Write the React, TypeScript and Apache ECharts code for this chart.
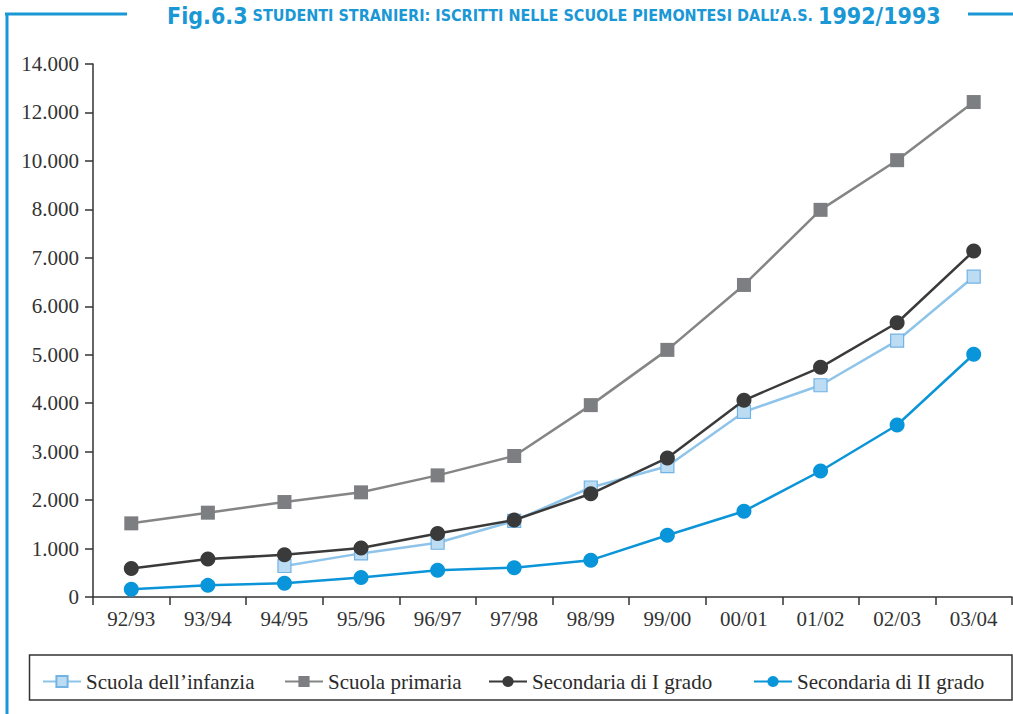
import React, { useEffect, useRef } from "react";
import * as echarts from "echarts";

const categories = ["92/93", "93/94", "94/95", "95/96", "96/97", "97/98", "98/99", "99/00", "00/01", "01/02", "02/03", "03/04"];
const infanzia = [null, null, 640, 900, 1120, 1570, 2260, 2700, 3820, 4370, 5290, 6610];
const primaria = [1520, 1740, 1960, 2160, 2510, 2910, 3960, 5100, 6440, 7990, 10030, 12430];
const secondariaI = [590, 785, 870, 1010, 1310, 1590, 2130, 2870, 4060, 4740, 5660, 7140];
const secondariaII = [160, 240, 285, 400, 550, 605, 760, 1275, 1770, 2600, 3550, 5010];
const tickLabels = ["0", "1.000", "2.000", "3.000", "4.000", "5.000", "6.000", "7.000", "8.000", "10.000", "12.000", "14.000"];
const tickValues = [0, 1000, 2000, 3000, 4000, 5000, 6000, 7000, 8000, 10000, 12000, 14000];
const seriesNames = ["Scuola dell’infanzia", "Scuola primaria", "Secondaria di I grado", "Secondaria di II grado"];

// The y axis of the original is broken: evenly spaced ticks 0..8000 by 1000, then 10000..14000 by 2000.
function toPos(v: number | null): number | null {
  if (v === null) return null;
  for (let i = 1; i < tickValues.length; i++) {
    if (v <= tickValues[i]) {
      const a = tickValues[i - 1];
      const b = tickValues[i];
      return i - 1 + (v - a) / (b - a);
    }
  }
  return tickValues.length - 1;
}

const SERIF = "'Liberation Serif', 'Times New Roman', serif";
const BLUE = "#1a97d5";
const TITLE_FONT = "'DejaVu Sans Condensed', 'Liberation Sans Narrow', 'Roboto', sans-serif";

export default function App() {
  const ref = useRef<HTMLDivElement>(null);
  useEffect(() => {
    if (!ref.current) return;
    const chart = echarts.init(ref.current, null, { renderer: "svg" });
    const mk = (name: string, data: (number | null)[], line: string, symbol: string, size: number, fill: string, border: string, bw: number, z: number) => ({
      name,
      type: "line",
      data: data.map((v) => toPos(v)),
      symbol,
      symbolSize: size,
      showSymbol: true,
      connectNulls: false,
      z,
      lineStyle: { color: line, width: 2.5 },
      itemStyle: { color: fill, borderColor: border, borderWidth: bw },
      emphasis: { disabled: true },
    });
    const legendBase = {
      top: 666,
      itemWidth: 38,
      itemHeight: 14,
      itemGap: 0,
      selectedMode: false,
      textStyle: { fontFamily: SERIF, fontSize: 21, color: "#2b2b2b" },
    };
    chart.setOption({
      animation: false,
      backgroundColor: "#ffffff",
      title: {
        left: 162,
        top: -1,
        text: "{a|Fig.6.3} {b|STUDENTI STRANIERI: ISCRITTI NELLE SCUOLE PIEMONTESI DALL’A.S.} {a|1992/1993}",
        textStyle: {
          rich: {
            a: { fontFamily: TITLE_FONT, fontWeight: "bold", fontSize: 23, color: BLUE },
            b: { fontFamily: TITLE_FONT, fontWeight: "bold", fontSize: 16, color: BLUE },
          },
        },
      },
      grid: { left: 93, right: 1, top: 64, bottom: 117, containLabel: false },
      xAxis: {
        type: "category",
        data: categories,
        boundaryGap: true,
        axisLine: { show: true, lineStyle: { color: "#333", width: 1.5 } },
        axisTick: { show: true, inside: false, length: 8, alignWithLabel: false, lineStyle: { color: "#333", width: 1.5 } },
        axisLabel: { fontFamily: SERIF, fontSize: 21, color: "#333", margin: 11 },
        splitLine: { show: false },
      },
      yAxis: {
        type: "value",
        min: 0,
        max: tickLabels.length - 1,
        interval: 1,
        axisLine: { show: true, lineStyle: { color: "#333", width: 1.5 } },
        axisTick: { show: true, inside: false, length: 8, lineStyle: { color: "#333", width: 1.5 } },
        axisLabel: {
          fontFamily: SERIF,
          fontSize: 21,
          color: "#333",
          margin: 14,
          formatter: (v: number) => tickLabels[Math.round(v)] ?? "",
        },
        splitLine: { show: false },
      },
      legend: [
        { ...legendBase, left: 37, data: [seriesNames[0]] },
        { ...legendBase, left: 279, data: [seriesNames[1]] },
        { ...legendBase, left: 483, data: [seriesNames[2]] },
        { ...legendBase, left: 748, data: [seriesNames[3]] },
      ],
      graphic: [
        { type: "line", shape: { x1: 5, y1: 14, x2: 127, y2: 14 }, style: { stroke: BLUE, lineWidth: 3 } },
        { type: "line", shape: { x1: 968, y1: 14, x2: 1013, y2: 14 }, style: { stroke: BLUE, lineWidth: 3 } },
        { type: "line", shape: { x1: 7, y1: 13, x2: 7, y2: 714 }, style: { stroke: BLUE, lineWidth: 3 } },
        { type: "rect", shape: { x: 29.5, y: 655, width: 982.5, height: 45 }, style: { fill: "none", stroke: "#333", lineWidth: 1.5 } },
      ],
      series: [
        mk(seriesNames[1], primaria, "#858585", "rect", 14, "#7d7e82", "#7d7e82", 0, 2),
        mk(seriesNames[0], infanzia, "#8fc4ea", "rect", 13, "#bcdcf3", "#72b3e4", 1.2, 3),
        mk(seriesNames[2], secondariaI, "#3a3a3a", "circle", 15, "#3a3a3a", "#3a3a3a", 0, 4),
        mk(seriesNames[3], secondariaII, "#0b95d8", "circle", 15, "#0995d9", "#0995d9", 0, 5),
      ],
    });
    return () => chart.dispose();
  }, []);
  return <div ref={ref} style={{ position: "fixed", left: 0, top: 0, width: 1013, height: 714, background: "#fff" }} />;
}
